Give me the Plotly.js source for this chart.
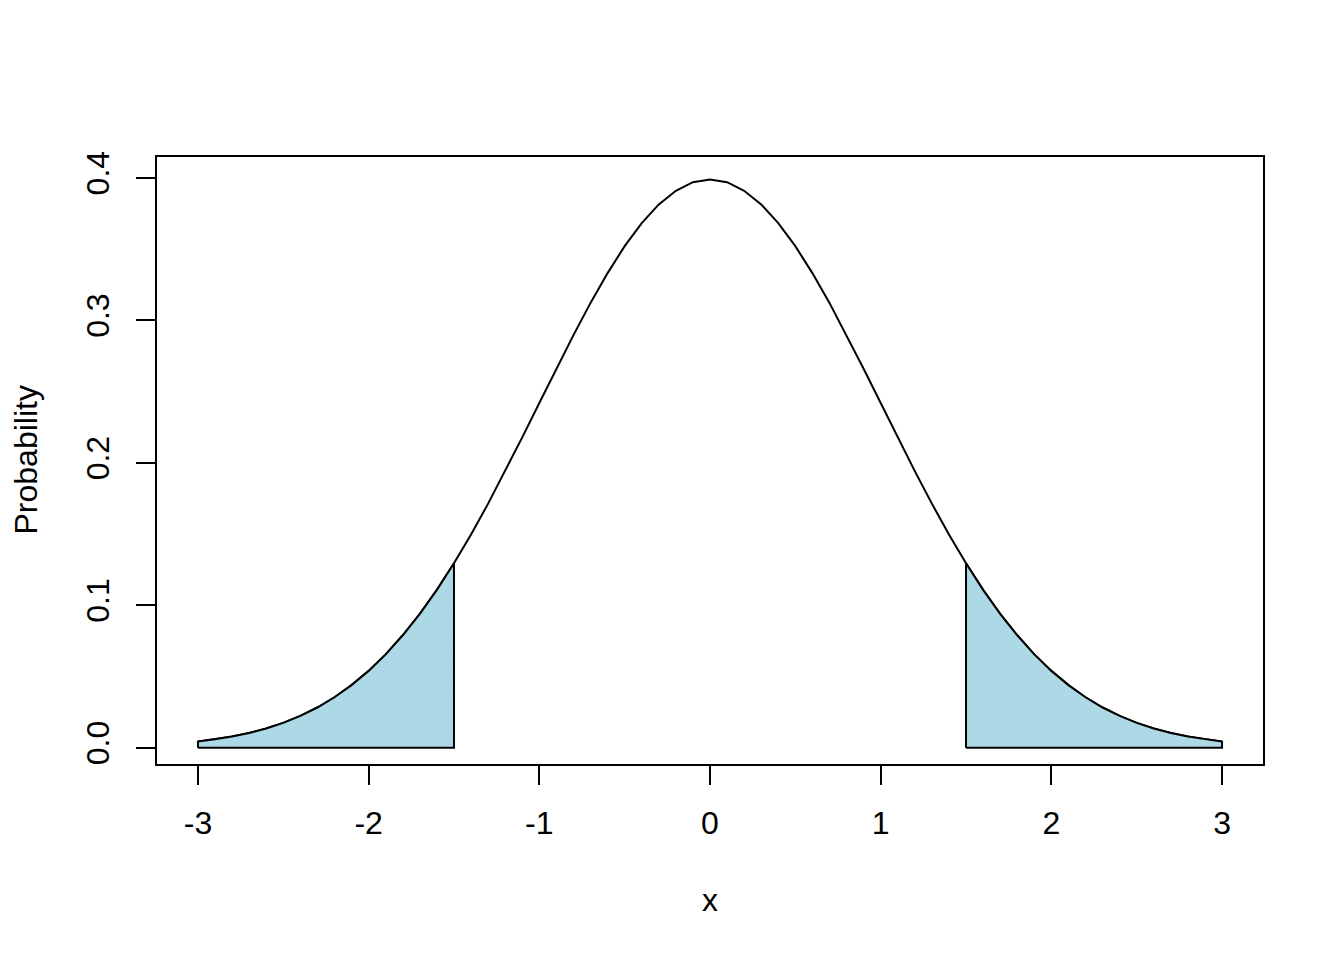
<!DOCTYPE html>
<html>
<head>
<meta charset="utf-8">
<script src="https://cdn.plot.ly/plotly-3.0.1.min.js"></script>
<style>html,body{margin:0;padding:0;background:#fff;}#chart{width:1344px;height:960px;}</style>
</head>
<body>
<div id="chart"></div>
<script>
// Curve points (x, density)
const xValues = [-3.0,-2.9,-2.8,-2.7,-2.6,-2.5,-2.4,-2.3,-2.2,-2.1,-2.0,-1.9,-1.8,-1.7,-1.6,-1.5,-1.4,-1.3,-1.2,-1.1,-1.0,-0.9,-0.8,-0.7,-0.6,-0.5,-0.4,-0.3,-0.2,-0.1,0.0,0.1,0.2,0.3,0.4,0.5,0.6,0.7,0.8,0.9,1.0,1.1,1.2,1.3,1.4,1.5,1.6,1.7,1.8,1.9,2.0,2.1,2.2,2.3,2.4,2.5,2.6,2.7,2.8,2.9,3.0];
const yValues = [0.0044,0.0060,0.0079,0.0104,0.0136,0.0175,0.0224,0.0283,0.0355,0.0440,0.0540,0.0656,0.0790,0.0940,0.1109,0.1295,0.1497,0.1714,0.1942,0.2179,0.2420,0.2661,0.2897,0.3123,0.3332,0.3521,0.3683,0.3814,0.3910,0.3970,0.3989,0.3970,0.3910,0.3814,0.3683,0.3521,0.3332,0.3123,0.2897,0.2661,0.2420,0.2179,0.1942,0.1714,0.1497,0.1295,0.1109,0.0940,0.0790,0.0656,0.0540,0.0440,0.0355,0.0283,0.0224,0.0175,0.0136,0.0104,0.0079,0.0060,0.0044];
const leftTail = [-3.0, -1.5];
const rightTail = [1.5, 3.0];
const xTickVals = [-3,-2,-1,0,1,2,3];
const xTickText = ["-3","-2","-1","0","1","2","3"];
const yTickVals = [0,0.1,0.2,0.3,0.4];
const yTickText = ["0.0","0.1","0.2","0.3","0.4"];
const xLabel = "x";
const yLabel = "Probability";

function tailPolygon(lo, hi){
  const px = [lo], py = [0];
  for (let i = 0; i < xValues.length; i++) {
    if (xValues[i] >= lo - 1e-9 && xValues[i] <= hi + 1e-9) { px.push(xValues[i]); py.push(yValues[i]); }
  }
  px.push(hi); py.push(0);
  px.push(lo); py.push(0);
  return {x: px, y: py};
}

const L = tailPolygon(leftTail[0], leftTail[1]);
const R = tailPolygon(rightTail[0], rightTail[1]);
const font = "Liberation Sans, Arial, sans-serif";
const fs = 32;

const traces = [
  {x: xValues, y: yValues, type: 'scatter', mode: 'lines', line: {color: 'black', width: 2}, hoverinfo: 'skip'},
  {x: L.x, y: L.y, type: 'scatter', mode: 'lines', fill: 'toself', fillcolor: '#ADD8E6', line: {color: 'black', width: 2}, hoverinfo: 'skip'},
  {x: R.x, y: R.y, type: 'scatter', mode: 'lines', fill: 'toself', fillcolor: '#ADD8E6', line: {color: 'black', width: 2}, hoverinfo: 'skip'}
];

const layout = {
  width: 1344, height: 960,
  margin: {l: 157, r: 81, t: 157, b: 196, pad: 0},
  paper_bgcolor: 'white', plot_bgcolor: 'white',
  showlegend: false,
  font: {family: font, size: fs, color: 'black'},
  xaxis: {
    range: [-3.24, 3.24], tickmode: 'array', tickvals: xTickVals, ticktext: xTickText,
    showgrid: false, zeroline: false, showline: true, mirror: true, linecolor: 'black', linewidth: 2,
    ticks: 'outside', ticklen: 19, tickwidth: 2, tickcolor: 'black', ticklabelstandoff: 11,
    tickfont: {family: font, size: fs, color: 'black'}
  },
  yaxis: {
    range: [-0.01135, 0.4147], tickmode: 'array', tickvals: yTickVals, ticktext: yTickText,
    showgrid: false, zeroline: false, showline: true, mirror: true, linecolor: 'black', linewidth: 2,
    ticks: 'outside', ticklen: 19, tickwidth: 2, tickcolor: 'black', tickangle: -90, ticklabelstandoff: 14,
    tickfont: {family: font, size: fs, color: 'black'}
  },
  annotations: [
    {text: xLabel, xref: 'paper', yref: 'paper', x: 0.5, y: 0, xanchor: 'center', yanchor: 'middle', yshift: -136, showarrow: false, font: {family: font, size: fs, color: 'black'}},
    {text: yLabel, xref: 'paper', yref: 'paper', x: 0, y: 0.5, xanchor: 'center', yanchor: 'middle', xshift: -132, textangle: -90, showarrow: false, font: {family: font, size: fs, color: 'black'}}
  ]
};

Plotly.newPlot('chart', traces, layout, {staticPlot: true, displayModeBar: false});
</script>
</body>
</html>
